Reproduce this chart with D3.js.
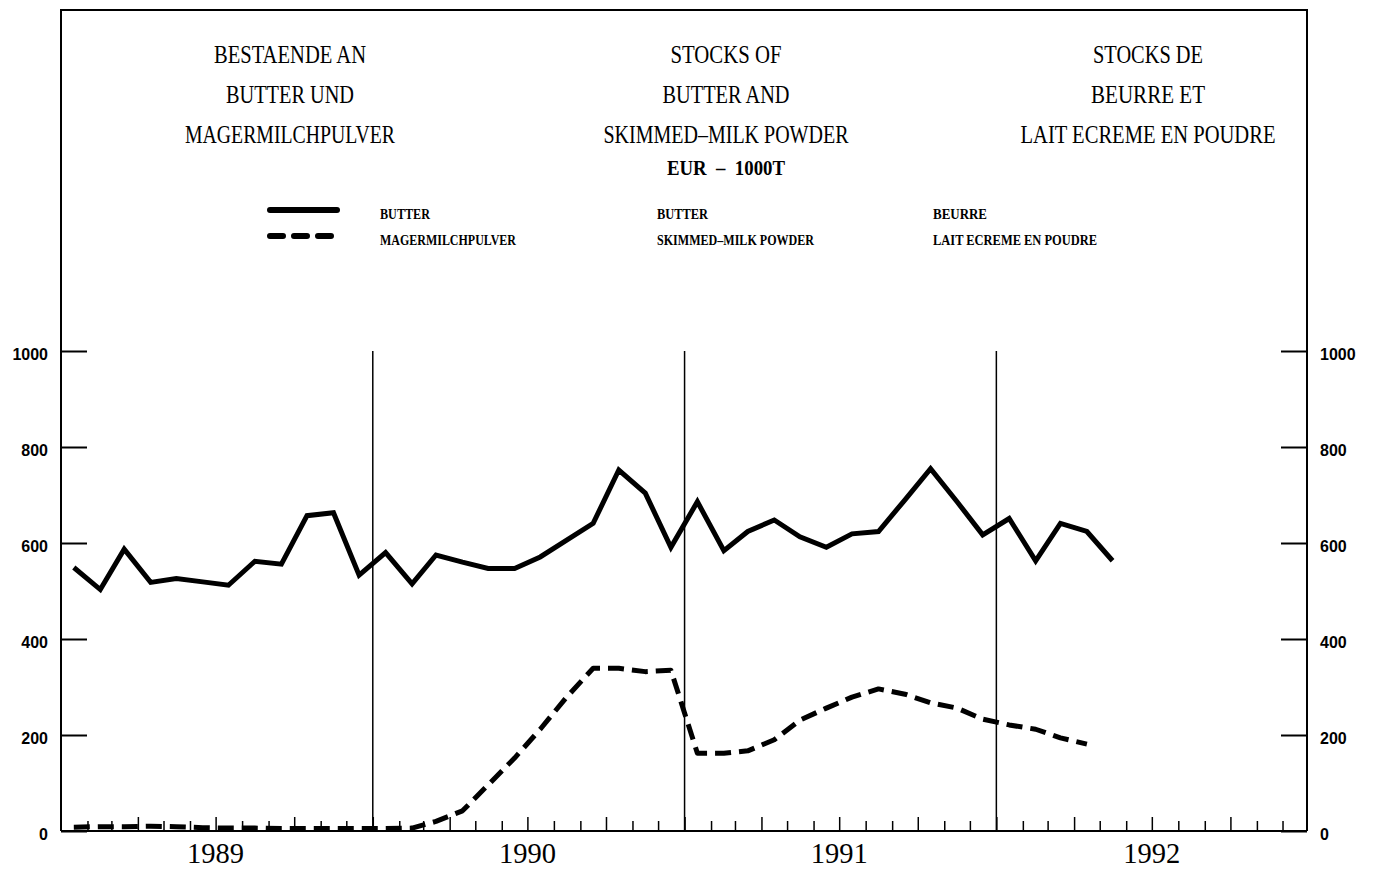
<!DOCTYPE html>
<html>
<head>
<meta charset="utf-8">
<script src="https://cdn.jsdelivr.net/npm/d3@7"></script>
<style>
  body { margin: 0; background: #fff; }
  svg { display: block; }
</style>
</head>
<body>
<div id="chart"></div>
<script>
// monthly stocks, EUR - 1000 t, starting January 1989
const startYear = 1989;
const butter = [549, 503, 587, 518, 526, 519, 512, 562, 556, 657, 663, 533,
                580, 515, 575, 560, 547, 547, 571, 606, 641, 752, 704, 591,
                686, 584, 624, 648, 613, 591, 619, 624, 690, 755, 686, 617,
                651, 563, 641, 624, 563];
const powder = [8, 9, 9, 10, 9, 7, 6, 6, 5, 5, 5, 5,
                5, 6, 20, 42, 96, 152, 212, 279, 339, 339, 332, 335,
                162, 162, 167, 190, 231, 256, 279, 296, 285, 267, 256, 233,
                221, 212, 194, 181];
const yearLabels = ["1989", "1990", "1991", "1992"];
const yTicks = [0, 200, 400, 600, 800, 1000];

const titleLines = [
  ["BESTAENDE AN", "BUTTER UND", "MAGERMILCHPULVER"],
  ["STOCKS OF", "BUTTER AND", "SKIMMED\u2013MILK POWDER"],
  ["STOCKS DE", "BEURRE ET", "LAIT ECREME EN POUDRE"]
];
const legendNames = [
  ["BUTTER", "MAGERMILCHPULVER"],
  ["BUTTER", "SKIMMED\u2013MILK POWDER"],
  ["BEURRE", "LAIT ECREME EN POUDRE"]
];

const W = 1378, H = 869;
const frameLeft = 61, frameRight = 1307, frameTop = 10;

const svg = d3.select("#chart").append("svg")
    .attr("width", W).attr("height", H);

// the month grid runs a touch past the right frame line
const x = d3.scaleTime()
    .domain([new Date(startYear, 0, 1), new Date(startYear + 4, 0, 1)])
    .range([frameLeft, 1309]);

const y = d3.scaleLinear()
    .domain([0, 1000])
    .range([831, 351]);

const monthDate = i => new Date(startYear, i, 16);

// frame
svg.append("path")
    .attr("d", `M${frameLeft},${y(0)}V${frameTop}H${frameRight}V${y(0)}`)
    .attr("fill", "none").attr("stroke", "#000").attr("stroke-width", 2);

// titles
const titleX = [290, 726, 1148];
const titleW = [
  [152, 128, 210],
  [111, 127, 245],
  [110, 114, 255]
];
titleLines.forEach((lines, c) => {
  lines.forEach((t, r) => {
    svg.append("text")
        .attr("x", titleX[c]).attr("y", 63 + r * 40)
        .attr("text-anchor", "middle")
        .attr("font-family", "Liberation Serif, serif")
        .attr("font-size", 26)
        .attr("textLength", titleW[c][r])
        .attr("lengthAdjust", "spacingAndGlyphs")
        .text(t);
  });
});

svg.append("text")
    .attr("x", 726).attr("y", 175)
    .attr("text-anchor", "middle")
    .attr("font-family", "Liberation Serif, serif")
    .attr("font-weight", "bold")
    .attr("font-size", 20)
    .attr("textLength", 118)
    .attr("lengthAdjust", "spacingAndGlyphs")
    .style("white-space", "pre")
    .text("EUR  \u2013  1000T");

// legend
svg.append("line")
    .attr("x1", 270).attr("x2", 337).attr("y1", 210).attr("y2", 210)
    .attr("stroke", "#000").attr("stroke-width", 6).attr("stroke-linecap", "round");
svg.append("line")
    .attr("x1", 270).attr("x2", 331).attr("y1", 236).attr("y2", 236)
    .attr("stroke", "#000").attr("stroke-width", 6).attr("stroke-linecap", "round")
    .attr("stroke-dasharray", "13,11");

const legendX = [380, 657, 933];
const legendW = [[50, 136], [51, 157], [54, 164]];
legendNames.forEach((names, c) => {
  names.forEach((t, r) => {
    svg.append("text")
        .attr("x", legendX[c]).attr("y", 219 + r * 26)
        .attr("font-family", "Liberation Serif, serif")
        .attr("font-weight", "bold")
        .attr("font-size", 15)
        .attr("textLength", legendW[c][r])
        .attr("lengthAdjust", "spacingAndGlyphs")
        .text(t);
  });
});

// y axes, ticks pointing inward
const yLeft = d3.axisLeft(y).tickValues(yTicks).tickFormat(d3.format("d"))
    .tickSizeInner(-26).tickSizeOuter(0).tickPadding(13);
const yRight = d3.axisRight(y).tickValues(yTicks).tickFormat(d3.format("d"))
    .tickSizeInner(-26).tickSizeOuter(0).tickPadding(13);

[[yLeft, frameLeft], [yRight, frameRight]].forEach(([ax, pos]) => {
  const g = svg.append("g").attr("transform", `translate(${pos},0)`).call(ax);
  g.select(".domain").remove();
  g.selectAll("line").attr("stroke-width", 2);
  g.selectAll("text")
      .attr("font-family", "Liberation Sans, Arial, sans-serif")
      .attr("font-weight", "bold")
      .attr("font-size", 16)
      .attr("dy", "0.55em")
      .attr("fill", "#000");
});

// x axis with monthly ticks, taller ones each quarter
const months = d3.timeMonth.range(new Date(startYear, 1, 1), new Date(startYear + 4, 0, 1));
const gx = svg.append("g").attr("transform", `translate(0,${y(0)})`);
gx.call(d3.axisBottom(x)
    .tickValues(months.filter(d => d.getMonth() % 3 !== 0))
    .tickSizeInner(-10).tickSizeOuter(0).tickFormat(""));
gx.call(g => g.append("g").call(d3.axisBottom(x)
    .tickValues(months.filter(d => d.getMonth() % 3 === 0))
    .tickSizeInner(-14).tickSizeOuter(0).tickFormat("")));
gx.selectAll("path.domain").attr("stroke-width", 2)
    .attr("d", `M${frameLeft},0H${frameRight}`);
gx.selectAll("line").attr("stroke-width", 1.5);

yearLabels.forEach(t => {
  svg.append("text")
      .attr("x", x(new Date(+t, 6, 1)))
      .attr("y", 863)
      .attr("text-anchor", "middle")
      .attr("font-family", "Liberation Serif, serif")
      .attr("font-size", 30)
      .attr("textLength", 57)
      .attr("lengthAdjust", "spacingAndGlyphs")
      .text(t);
});

// year separators
svg.selectAll(".sep")
    .data(yearLabels.slice(1))
    .join("line")
      .attr("class", "sep")
      .attr("x1", d => x(new Date(+d, 0, 1)))
      .attr("x2", d => x(new Date(+d, 0, 1)))
      .attr("y1", y(1000)).attr("y2", y(0))
      .attr("stroke", "#000").attr("stroke-width", 1.5);

// series
const line = d3.line()
    .x((d, i) => x(monthDate(i)))
    .y(d => y(d));

svg.append("path")
    .datum(butter)
    .attr("d", line)
    .attr("fill", "none").attr("stroke", "#000")
    .attr("stroke-width", 5).attr("stroke-linejoin", "miter");

svg.append("path")
    .datum(powder)
    .attr("d", line)
    .attr("fill", "none").attr("stroke", "#000")
    .attr("stroke-width", 5).attr("stroke-linejoin", "round")
    .attr("stroke-dasharray", "16,8");
</script>
</body>
</html>
